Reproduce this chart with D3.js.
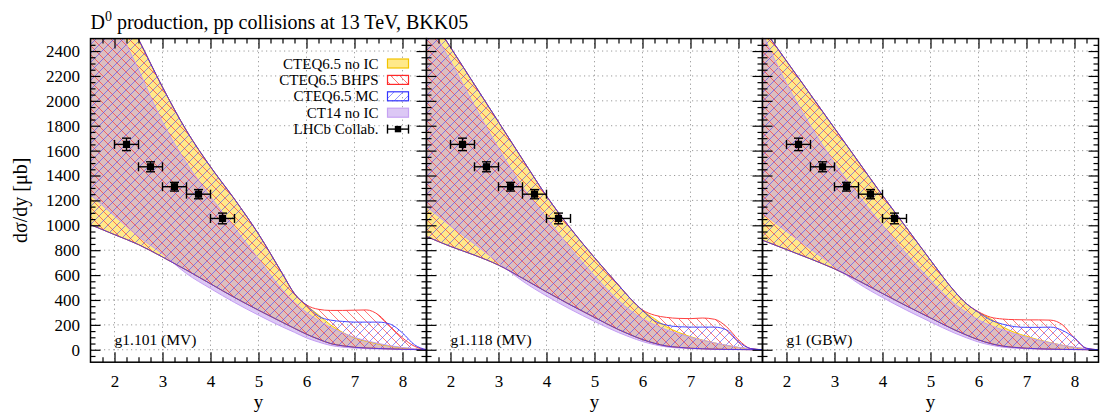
<!DOCTYPE html>
<html>
<head>
<meta charset="utf-8">
<script src="https://cdn.jsdelivr.net/npm/d3@7/dist/d3.min.js"></script>
<style>
  body { margin: 0; background: #fff; }
  text { font-family: "Liberation Serif", "Times New Roman", Times, serif; fill: #000; }
</style>
</head>
<body>
<svg id="chart" width="1120" height="420"></svg>
<script>
// rapidity grid shared by every band
var rap = [1.5, 2, 2.5, 3, 3.5, 4, 4.5, 5, 5.5, 5.75, 6, 6.25, 6.5, 6.75, 7, 7.25, 7.5, 7.75, 8, 8.25, 8.5];

var panelLabels = ["g1.101 (MV)", "g1.118 (MV)", "g1 (GBW)"];

// panel 1 : g1.101 (MV)
var cteqLo1  = [1005, 925, 845, 745, 640, 530, 420, 318, 220, 172, 125, 85, 50, 32, 20, 14, 10, 7, 4, 2, 0];
var noIcHi1  = [3240, 2870, 2495, 2110, 1760, 1470, 1210, 930, 610, 450, 355, 280, 200, 140, 95, 68, 45, 28, 15, 6, 0];
var bhpsHi1  = [3240, 2870, 2495, 2110, 1760, 1470, 1210, 930, 610, 450, 360, 325, 316, 316, 318, 320, 280, 185, 95, 28, 0];
var mcHi1    = [3240, 2870, 2495, 2110, 1760, 1470, 1210, 930, 610, 450, 358, 270, 238, 228, 222, 222, 222, 205, 135, 40, 0];
var ct14Lo1  = [1245, 1075, 910, 770, 612, 492, 380, 278, 183, 140, 95, 62, 35, 21, 13, 9, 6, 4, 2, 1, 0];
var ct14Hi1  = [3100, 2660, 2250, 1830, 1500, 1230, 980, 730, 480, 380, 300, 235, 180, 135, 100, 72, 50, 32, 18, 8, 0];

// panel 2 : g1.118 (MV)
var cteqLo2  = [910, 830, 760, 680, 575, 465, 360, 260, 162, 120, 82, 52, 30, 20, 12, 8, 5, 3, 2, 1, 0];
var noIcHi2  = [2730, 2430, 2130, 1830, 1530, 1235, 975, 740, 520, 410, 315, 250, 185, 140, 105, 78, 55, 35, 18, 6, 0];
var bhpsHi2  = [2730, 2430, 2130, 1830, 1530, 1235, 975, 740, 520, 410, 320, 278, 260, 252, 250, 255, 245, 185, 80, 10, 0];
var mcHi2    = [2730, 2430, 2130, 1830, 1530, 1235, 975, 740, 520, 410, 315, 232, 198, 185, 182, 182, 182, 160, 65, 10, 0];
var ct14Lo2  = [1150, 995, 850, 700, 552, 432, 325, 228, 138, 100, 66, 41, 23, 14, 9, 6, 3, 2, 1, 0, 0];
var ct14Hi2  = [2650, 2320, 1960, 1620, 1310, 1060, 815, 595, 395, 315, 250, 200, 160, 128, 100, 76, 55, 36, 20, 8, 0];

// panel 3 : g1 (GBW)
var cteqLo3  = [880, 805, 730, 650, 555, 452, 352, 256, 160, 118, 80, 50, 30, 19, 12, 8, 5, 3, 2, 1, 0];
var noIcHi3  = [2590, 2320, 2050, 1780, 1510, 1240, 980, 720, 470, 370, 300, 250, 185, 140, 108, 80, 57, 36, 18, 6, 0];
var bhpsHi3  = [2590, 2320, 2050, 1780, 1510, 1240, 980, 720, 470, 370, 305, 262, 247, 242, 240, 240, 238, 200, 92, 12, 0];
var mcHi3    = [2590, 2320, 2050, 1780, 1510, 1240, 980, 720, 470, 370, 300, 240, 206, 186, 180, 180, 182, 155, 95, 12, 0];
var ct14Lo3  = [1100, 950, 810, 670, 532, 420, 318, 224, 134, 96, 62, 38, 21, 13, 8, 5, 3, 2, 1, 0, 0];
var ct14Hi3  = [2540, 2140, 1800, 1500, 1240, 1000, 770, 560, 370, 300, 240, 195, 160, 128, 100, 76, 55, 36, 20, 8, 0];

// LHCb points
var lhcbRap    = [2.25, 2.75, 3.25, 3.75, 4.25];
var lhcbRapErr = [0.25, 0.25, 0.25, 0.25, 0.25];
var lhcbXsec   = [1650, 1470, 1310, 1250, 1055];
var lhcbErr    = [50, 40, 35, 37, 43];

var xMajor = [2, 3, 4, 5, 6, 7, 8];
var yMajor = [0, 200, 400, 600, 800, 1000, 1200, 1400, 1600, 1800, 2000, 2200, 2400];
var legendLabels = ["CTEQ6.5 no IC", "CTEQ6.5 BHPS", "CTEQ6.5 MC", "CT14 no IC", "LHCb Collab."];

var panels = [
  { label: panelLabels[0], lo: cteqLo1, noIc: noIcHi1, bhps: bhpsHi1, mc: mcHi1, ctLo: ct14Lo1, ctHi: ct14Hi1 },
  { label: panelLabels[1], lo: cteqLo2, noIc: noIcHi2, bhps: bhpsHi2, mc: mcHi2, ctLo: ct14Lo2, ctHi: ct14Hi2 },
  { label: panelLabels[2], lo: cteqLo3, noIc: noIcHi3, bhps: bhpsHi3, mc: mcHi3, ctLo: ct14Lo3, ctHi: ct14Hi3 }
];

var svg = d3.select("#chart");
var panelLeft = [90.5, 426.5, 762.5], panelW = 336;
var plotTop = 38.6, plotBottom = 362.2;
var y = d3.scaleLinear().domain([-100, 2500]).range([plotBottom, plotTop]);
var serif = "'Liberation Serif', 'Times New Roman', Times, serif";

var yellowFill = "#ffe98a", yellowLine = "#f2c400";
var purpleFill = "rgb(191,155,237)", purpleLine = "#c39cf2";
var redLine = "#ff2a2a", blueLine = "#3333ff";

var defs = svg.append("defs");
function hatch(id, d, color, op){
  var p = defs.append("pattern").attr("id", id)
    .attr("patternUnits", "userSpaceOnUse").attr("width", 9).attr("height", 9);
  p.append("path").attr("d", d).attr("stroke", color).attr("stroke-width", 1)
    .attr("stroke-opacity", op).attr("fill", "none");
}
hatch("hatchRed", "M-1,-1L10,10M-1,8L1,10M8,-1L10,1", "#ff3030", 0.65);  // "\"
hatch("hatchBlue", "M-1,10L10,-1M-1,1L1,-1M8,10L10,8", "#3a3aff", 0.55);  // "/"

// title
var title = svg.append("text").attr("x", 90.5).attr("y", 29).style("font-size", "20px");
title.append("tspan").text("D");
title.append("tspan").attr("dy", -8).style("font-size", "14px").text("0");
title.append("tspan").attr("dy", 8).text(" production, pp collisions at 13 TeV, BKK05");

// y label
svg.append("text")
  .attr("transform", "translate(27," + ((plotTop + plotBottom) / 2) + ") rotate(-90)")
  .attr("text-anchor", "middle").style("font-size", "20px")
  .text("dσ/dy [μb]");

panels.forEach(function(p, i){
  var x0 = panelLeft[i], x1 = x0 + panelW;
  var x = d3.scaleLinear().domain([1.5, 8.5]).range([x0, x1]);
  var g = svg.append("g");

  defs.append("clipPath").attr("id", "clip" + i).append("rect")
    .attr("x", x0).attr("y", plotTop).attr("width", panelW).attr("height", plotBottom - plotTop);

  // grid behind everything
  var grid = g.append("g").attr("stroke", "#9a9a9a").attr("stroke-width", 1).attr("stroke-dasharray", "1.2,3.3");
  grid.selectAll("line.gx").data(xMajor).enter().append("line")
    .attr("x1", d => x(d)).attr("x2", d => x(d)).attr("y1", plotTop).attr("y2", plotBottom);
  grid.selectAll("line.gy").data(yMajor).enter().append("line")
    .attr("x1", x0).attr("x2", x1).attr("y1", d => y(d)).attr("y2", d => y(d));

  var area = function(lo, hi){
    return d3.area().x((d, k) => x(rap[k])).y0((d, k) => y(lo[k])).y1((d, k) => y(hi[k]))
      .curve(d3.curveMonotoneX)(rap);
  };
  var line = function(v){
    return d3.line().x((d, k) => x(rap[k])).y((d, k) => y(v[k])).curve(d3.curveMonotoneX)(rap);
  };

  var bands = g.append("g").attr("clip-path", "url(#clip" + i + ")");
  bands.append("path").attr("d", area(p.lo, p.noIc)).attr("fill", yellowFill);
  bands.append("path").attr("d", area(p.ctLo, p.ctHi)).attr("fill", purpleFill).attr("fill-opacity", 0.55);
  bands.append("path").attr("d", area(p.lo, p.bhps)).attr("fill", "url(#hatchRed)");
  bands.append("path").attr("d", area(p.lo, p.mc)).attr("fill", "url(#hatchBlue)");

  [[p.noIc, yellowLine, 1], [p.lo, yellowLine, 1], [p.ctHi, purpleLine, 1], [p.ctLo, purpleLine, 1],
   [p.bhps, redLine, 0.9], [p.lo, redLine, 0.7], [p.mc, blueLine, 0.9], [p.lo, blueLine, 0.8]]
    .forEach(function(s){
      bands.append("path").attr("d", line(s[0])).attr("fill", "none")
        .attr("stroke", s[1]).attr("stroke-width", 1).attr("stroke-opacity", s[2]);
    });

  // LHCb data
  var pts = g.append("g").attr("stroke", "#000").attr("stroke-width", 1.4);
  lhcbRap.forEach(function(r, k){
    var cx = x(r), cy = y(lhcbXsec[k]);
    var xl = x(r - lhcbRapErr[k]), xr = x(r + lhcbRapErr[k]);
    var yt = y(lhcbXsec[k] + lhcbErr[k]), yb = y(lhcbXsec[k] - lhcbErr[k]);
    pts.append("line").attr("x1", xl).attr("x2", xr).attr("y1", cy).attr("y2", cy);
    pts.append("line").attr("x1", xl).attr("x2", xl).attr("y1", cy - 4.5).attr("y2", cy + 4.5);
    pts.append("line").attr("x1", xr).attr("x2", xr).attr("y1", cy - 4.5).attr("y2", cy + 4.5);
    pts.append("line").attr("x1", cx).attr("x2", cx).attr("y1", yt).attr("y2", yb);
    pts.append("line").attr("x1", cx - 4.5).attr("x2", cx + 4.5).attr("y1", yt).attr("y2", yt);
    pts.append("line").attr("x1", cx - 4.5).attr("x2", cx + 4.5).attr("y1", yb).attr("y2", yb);
    pts.append("rect").attr("x", cx - 3.6).attr("y", cy - 3.6).attr("width", 7.2).attr("height", 7.2)
      .attr("fill", "#000").attr("stroke", "none");
  });

  // axes, ticks inward and mirrored
  var xMinor = d3.range(1.75, 8.5, 0.25).filter(v => Math.abs(v - Math.round(v)) > 0.01);
  var yMinor = d3.range(-50, 2500, 50).filter(v => v % 200 !== 0);
  function styleAxis(sel){
    sel.attr("font-family", serif);
    sel.select(".domain").remove();
    sel.selectAll(".tick line").attr("stroke", "#000").attr("stroke-width", 1.2);
    sel.selectAll(".tick text").style("font-size", "17px").style("font-family", serif);
  }
  g.append("g").attr("transform", "translate(0," + plotBottom + ")")
    .call(d3.axisBottom(x).tickValues(xMajor).tickSize(-10).tickPadding(12.3).tickFormat(d3.format("d"))).call(styleAxis);
  g.append("g").attr("transform", "translate(0," + plotBottom + ")")
    .call(d3.axisBottom(x).tickValues(xMinor).tickSize(-5).tickFormat("")).call(styleAxis);
  g.append("g").attr("transform", "translate(0," + plotTop + ")")
    .call(d3.axisTop(x).tickValues(xMajor).tickSize(-10).tickFormat("")).call(styleAxis);
  g.append("g").attr("transform", "translate(0," + plotTop + ")")
    .call(d3.axisTop(x).tickValues(xMinor).tickSize(-5).tickFormat("")).call(styleAxis);
  g.append("g").attr("transform", "translate(" + x0 + ",0)")
    .call(d3.axisLeft(y).tickValues(yMajor).tickSize(-10).tickPadding(10.5)
      .tickFormat(i === 0 ? d3.format("d") : "")).call(styleAxis);
  g.append("g").attr("transform", "translate(" + x0 + ",0)")
    .call(d3.axisLeft(y).tickValues(yMinor).tickSize(-5).tickFormat("")).call(styleAxis);
  g.append("g").attr("transform", "translate(" + x1 + ",0)")
    .call(d3.axisRight(y).tickValues(yMajor).tickSize(-10).tickFormat("")).call(styleAxis);
  g.append("g").attr("transform", "translate(" + x1 + ",0)")
    .call(d3.axisRight(y).tickValues(yMinor).tickSize(-5).tickFormat("")).call(styleAxis);

  g.append("rect").attr("x", x0).attr("y", plotTop).attr("width", panelW).attr("height", plotBottom - plotTop)
    .attr("fill", "none").attr("stroke", "#000").attr("stroke-width", 1.5);

  g.append("text").attr("x", x0 + 24).attr("y", 345).style("font-size", "15.5px").text(p.label);
  g.append("text").attr("x", (x0 + x1) / 2).attr("y", 407.5).attr("text-anchor", "middle")
    .style("font-size", "19px").text("y");
});

// legend (inside panel 1)
var leg = svg.append("g");
var legTextX = 378.5, keyX = 387.5, keyW = 21, rowY0 = 63.5, rowStep = 16.4;
legendLabels.forEach(function(t, k){
  var cy = rowY0 + k * rowStep;
  leg.append("text").attr("x", legTextX).attr("y", cy + 5).attr("text-anchor", "end")
    .style("font-size", "15px").text(t);
  if (k < 4) {
    var fills = [yellowFill, "url(#hatchRed)", "url(#hatchBlue)", "#dcc8f5"];
    var strokes = [yellowLine, redLine, blueLine, "#c6a2f2"];
    leg.append("rect").attr("x", keyX).attr("y", cy - 4.5).attr("width", keyW).attr("height", 9)
      .attr("fill", fills[k]).attr("stroke", strokes[k]).attr("stroke-width", 1.2);
  } else {
    var lg = leg.append("g").attr("stroke", "#000").attr("stroke-width", 1.4);
    lg.append("line").attr("x1", keyX).attr("x2", keyX + keyW).attr("y1", cy).attr("y2", cy);
    lg.append("line").attr("x1", keyX).attr("x2", keyX).attr("y1", cy - 4.5).attr("y2", cy + 4.5);
    lg.append("line").attr("x1", keyX + keyW).attr("x2", keyX + keyW).attr("y1", cy - 4.5).attr("y2", cy + 4.5);
    lg.append("rect").attr("x", keyX + keyW / 2 - 3.2).attr("y", cy - 3.2).attr("width", 6.4).attr("height", 6.4)
      .attr("fill", "#000").attr("stroke", "none");
  }
});
</script>
</body>
</html>
